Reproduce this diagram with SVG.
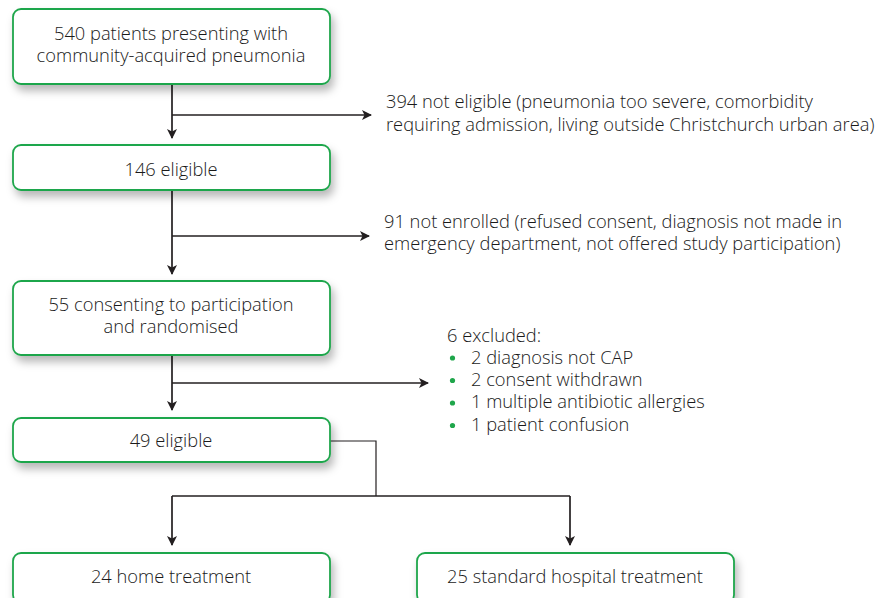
<svg xmlns="http://www.w3.org/2000/svg" width="893" height="598" viewBox="0 0 893 598">
<defs>
<filter id="sh" x="-10%" y="-20%" width="130%" height="160%">
<feDropShadow dx="3" dy="6" stdDeviation="4" flood-color="#000" flood-opacity="0.28"/>
</filter>
<marker id="ah" viewBox="0 0 10 10" refX="9" refY="5" markerWidth="10" markerHeight="10" markerUnits="userSpaceOnUse" orient="auto">
<path d="M0,0 L10,5 L0,10 L2.5,5 Z" fill="#231f20"/>
</marker>
<style>
.box{fill:#fff;stroke:#1fa64b;stroke-width:1.8;filter:url(#sh)}
.t{font-family:"Open Sans","Liberation Sans",sans-serif;font-size:18.3px;font-weight:300;fill:#1a1a1a}
.c{text-anchor:middle}
.ln{fill:none;stroke:#231f20;stroke-width:1.7}
.thin{fill:none;stroke:#231f20;stroke-width:1.2}
.dot{fill:#1fa64b}
</style>
</defs>
<rect width="893" height="598" fill="#fff"/>
<g id="connectors">
<path class="ln" d="M172,84 V138" marker-end="url(#ah)"/>
<path class="ln" d="M172,115 H371" marker-end="url(#ah)"/>
<path class="ln" d="M172,190 V274" marker-end="url(#ah)"/>
<path class="ln" d="M172,236 H369" marker-end="url(#ah)"/>
<path class="ln" d="M172,355 V410" marker-end="url(#ah)"/>
<path class="ln" d="M172,383 H428" marker-end="url(#ah)"/>
<path class="thin" d="M330,441 H376 V496"/>
<path class="ln" d="M172,496 H570"/>
<path class="ln" d="M172,496 V545" marker-end="url(#ah)"/>
<path class="ln" d="M570,496 V545" marker-end="url(#ah)"/>
</g>
<g id="n1">
<rect class="box" x="13" y="9" width="317" height="75" rx="8"/>
<text class="t c" x="171" y="40">540 patients presenting with</text>
<text class="t c" x="171" y="62">community-acquired pneumonia</text>
</g>
<g id="n2">
<rect class="box" x="13" y="145" width="317" height="45" rx="8"/>
<text class="t c" x="171" y="176">146 eligible</text>
</g>
<g id="n3">
<rect class="box" x="13" y="281" width="317" height="74" rx="8"/>
<text class="t c" x="171" y="311">55 consenting to participation</text>
<text class="t c" x="171" y="333">and randomised</text>
</g>
<g id="n4">
<rect class="box" x="13" y="418" width="317" height="44" rx="8"/>
<text class="t c" x="171" y="447">49 eligible</text>
</g>
<g id="n5">
<rect class="box" x="13" y="553" width="317" height="50" rx="8"/>
<text class="t c" x="171" y="583">24 home treatment</text>
</g>
<g id="n6">
<rect class="box" x="417" y="553" width="317" height="50" rx="8"/>
<text class="t c" x="575" y="583">25 standard hospital treatment</text>
</g>
<g id="n7">
<text class="t" x="386" y="108">394 not eligible (pneumonia too severe, comorbidity</text>
<text class="t" x="386" y="131">requiring admission, living outside Christchurch urban area)</text>
</g>
<g id="n8">
<text class="t" x="384" y="228">91 not enrolled (refused consent, diagnosis not made in</text>
<text class="t" x="384" y="250">emergency department, not offered study participation)</text>
</g>
<g id="n9">
<text class="t" x="447" y="342">6 excluded:</text>
<circle class="dot" cx="452.5" cy="358" r="2.6"/>
<text class="t" x="471" y="364">2 diagnosis not CAP</text>
<circle class="dot" cx="452.5" cy="380.5" r="2.6"/>
<text class="t" x="471" y="386">2 consent withdrawn</text>
<circle class="dot" cx="452.5" cy="403" r="2.6"/>
<text class="t" x="471" y="408">1 multiple antibiotic allergies</text>
<circle class="dot" cx="452.5" cy="425.5" r="2.6"/>
<text class="t" x="471" y="431">1 patient confusion</text>
</g>
</svg>
